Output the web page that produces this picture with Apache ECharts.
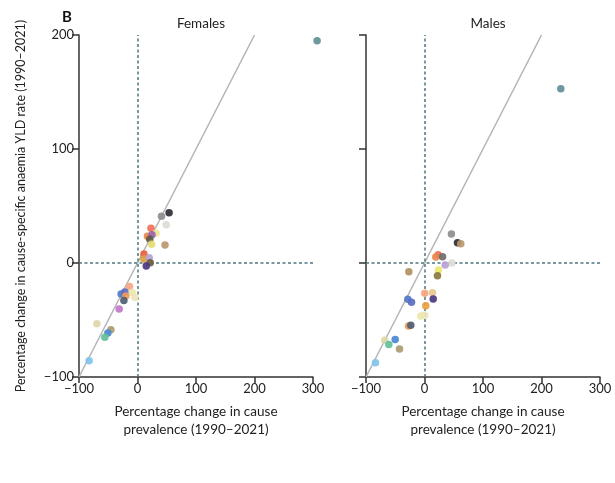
<!DOCTYPE html>
<html>
<head>
<meta charset="utf-8">
<script src="https://cdn.jsdelivr.net/npm/echarts@6/dist/echarts.min.js"></script>
<style>
html,body{margin:0;padding:0;background:#fff;}
#chart{width:615px;height:483px;}
</style>
</head>
<body>
<div id="chart"></div>
<script>
// Tick values
const xTicks = [-100, 0, 100, 200, 300];
const yTicks = [-100, 0, 100, 200];
const panelTitles = ['Females', 'Males'];

// Females: % change in prevalence (x) vs % change in YLD rate (y)
const femaleX = [307, 54, 41, 49, 23, 31.5, 17, 24.7, 21, 24, 47, 11, 10.6, 20, 21.7, 15, -13.7, -9, -4.5, -28, -21.6, -20, -23.3, -31.3, -69.5, -45.5, -50.7, -55.8, -82.7];
const femaleY = [195, 44, 41, 33.6, 30.4, 26, 23.4, 24.7, 20.9, 16.4, 15.7, 7.9, 3.5, 4.6, 0.3, -2.6, -20.6, -25.9, -30.3, -27.3, -25.5, -29, -32.9, -40.3, -53.2, -58.5, -61.4, -65.1, -85.7];
const femaleColors = ['#5f8f96', '#2e2e38', '#8e8e8e', '#dcdcd4', '#f0705a', '#ece590', '#e8884c', '#9b62b0', '#5e5a48', '#e3dd70', '#bb9870', '#e8623e', '#d8a040', '#b8a2d2', '#6e5c40', '#4b3a82', '#f6a584', '#ece8a8', '#ece4b8', '#5478c8', '#5a6ec0', '#f09a58', '#4f5e72', '#c078c8', '#dcd8aa', '#ab9a72', '#4a88d2', '#62c09a', '#82c2ea'];

// Males
const maleX = [233, 46, 56.4, 62, 23.4, 19.3, 30.8, 46.7, 35.4, 23.9, 22.2, -26.8, 0.5, 13.7, 14.9, 2.2, -28.5, -22.2, -6.3, 0.5, -27.4, -23.4, -67.9, -50.1, -61, -42.7, -83.8];
const maleY = [152.8, 25.4, 17.8, 16.9, 7.3, 5.3, 5.5, 0, -1.8, -6.1, -11.1, -7.6, -26.6, -26, -31.6, -37.4, -31.8, -34.4, -46.4, -45.8, -55.2, -54.6, -67.7, -67.2, -71.6, -75.4, -87.6];
const maleColors = ['#5f8f96', '#8e8e8e', '#2e2e38', '#bb9870', '#f0705a', '#e8884c', '#6e6e6e', '#dcdcd4', '#b8a2d2', '#ece870', '#8a7a3a', '#b09060', '#f6a584', '#e8c890', '#4b3a82', '#e8a040', '#5478c8', '#5a6ec0', '#ece8a8', '#ece4b8', '#f09a58', '#4f5e72', '#dcd8aa', '#4a88d2', '#62c09a', '#ab9a72', '#82c2ea'];

// Identity line endpoints (y = x)
const identityLine = [[-100, -100], [200, 200]];

const FONT = 'Lato';
const axisColor = '#333';

function pts(xs, ys, cols) {
  return xs.map((x, i) => ({ value: [x, ys[i]], itemStyle: { color: cols[i] } }));
}

function xAxisDef(idx) {
  return {
    gridIndex: idx, type: 'value',
    min: xTicks[0], max: xTicks[xTicks.length - 1], interval: 100,
    axisLine: { show: true, onZero: false, lineStyle: { color: axisColor, width: 1.5 } },
    axisTick: { show: true, length: 6, lineStyle: { color: axisColor, width: 1.5 } },
    axisLabel: { color: '#222', fontSize: 13, fontFamily: FONT, margin: 5,
      formatter: v => v < 0 ? '\u2212' + Math.abs(v) : String(v) },
    splitLine: { show: false },
    name: 'Percentage change in cause\nprevalence (1990\u20132021)',
    nameLocation: 'middle', nameGap: 26,
    nameTextStyle: { color: '#222', fontSize: 13.5, fontFamily: FONT, lineHeight: 18, verticalAlign: 'top' }
  };
}

function yAxisDef(idx, showLabels) {
  const a = {
    gridIndex: idx, type: 'value',
    min: yTicks[0], max: yTicks[yTicks.length - 1], interval: 100,
    axisLine: { show: true, onZero: false, lineStyle: { color: axisColor, width: 1.5 } },
    axisTick: { show: true, length: 7, lineStyle: { color: axisColor, width: 1.5 } },
    axisLabel: { show: showLabels, color: '#222', fontSize: 13, fontFamily: FONT, margin: 5,
      formatter: v => v < 0 ? '\u2212' + Math.abs(v) : String(v) },
    splitLine: { show: false }
  };
  if (showLabels) {
    a.name = 'Percentage change in cause-specific anaemia YLD rate (1990\u20132021)';
    a.nameLocation = 'middle';
    a.nameGap = 52;
    a.nameTextStyle = { color: '#222', fontSize: 12.5, fontFamily: FONT };
  }
  return a;
}

const dashStyle = { color: '#4d7580', width: 1.5, type: [3, 2.5] };

function scatterSeries(idx, xs, ys, cols) {
  return {
    type: 'scatter', xAxisIndex: idx, yAxisIndex: idx,
    symbolSize: 7.5, z: 5, clip: false,
    data: pts(xs, ys, cols),
    itemStyle: { opacity: 0.92 },
    markLine: {
      silent: true, symbol: 'none', label: { show: false },
      lineStyle: dashStyle,
      data: [{ xAxis: 0 }, { yAxis: 0 }]
    }
  };
}

function lineSeries(idx) {
  return {
    type: 'line', xAxisIndex: idx, yAxisIndex: idx,
    data: identityLine, symbol: 'none', z: 3,
    lineStyle: { color: '#b4b4b4', width: 1.5 }
  };
}

const chart = echarts.init(document.getElementById('chart'), null, { renderer: 'canvas' });
chart.setOption({
  animation: false,
  backgroundColor: '#fff',
  title: [
    { text: 'B', left: 57, top: 5, textStyle: { fontSize: 15, fontWeight: 'bold', fontFamily: FONT, color: '#111' } },
    { text: panelTitles[0], left: 196, top: 12, textAlign: 'center', textStyle: { fontSize: 13.5, fontWeight: 'normal', fontFamily: FONT, color: '#222' } },
    { text: panelTitles[1], left: 483, top: 12, textAlign: 'center', textStyle: { fontSize: 13.5, fontWeight: 'normal', fontFamily: FONT, color: '#222' } }
  ],
  grid: [
    { left: 79, top: 35, width: 234, height: 342 },
    { left: 366, top: 35, width: 234, height: 342 }
  ],
  xAxis: [xAxisDef(0), xAxisDef(1)],
  yAxis: [yAxisDef(0, true), yAxisDef(1, false)],
  series: [
    lineSeries(0), scatterSeries(0, femaleX, femaleY, femaleColors),
    lineSeries(1), scatterSeries(1, maleX, maleY, maleColors)
  ]
});
</script>
</body>
</html>
